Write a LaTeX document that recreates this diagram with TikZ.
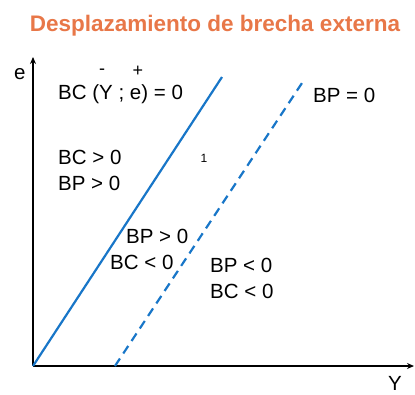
\documentclass[tikz,border=0pt]{standalone}
\usepackage{fontspec}
\setmainfont{Liberation Sans}
\usepackage{tikz}
\usetikzlibrary{arrows.meta, positioning}

\definecolor{titleorange}{RGB}{232,119,72}
\definecolor{curveblue}{RGB}{24,118,200}

\begin{document}
\begin{tikzpicture}[x=1pt, y=-1pt, >=Stealth,
      axis/.style={line width=1.8pt, ->, >={Stealth[length=7pt, width=6pt]}},
      curve/.style={line width=2.2pt, curveblue},
      lbl/.style={font=\fontsize{20.5}{24}\selectfont, anchor=base west, inner sep=0pt},
      sgn/.style={font=\fontsize{18}{20}\selectfont, inner sep=0pt}]

    \useasboundingbox (0,0) rectangle (415,394);

    % === title ===
    \node[font=\fontsize{22.5}{26}\selectfont\bfseries, text=titleorange, anchor=base, inner sep=0pt]
      (title) at (215,31) {Desplazamiento de brecha externa};

    % === axes ===
    \coordinate (O) at (33,366);
    \coordinate (ytop) at (33,57);
    \coordinate (xend) at (414,366);
    \draw[axis] (O) -- (ytop);
    \draw[axis] (O) -- (xend);
    \node[lbl] (elbl) at (14,79) {e};
    \node[lbl] (ylbl) at (388,390) {Y};

    % === BC and BP curves ===
    \coordinate (bctop) at (222,77);
    \coordinate (bpbot) at (115,366);
    \coordinate (bptop) at (304,80);
    \draw[curve] (O) -- (bctop);
    \draw[curve, dash pattern=on 9pt off 6pt] (bpbot) -- (bptop);

    % === labels ===
    \node[lbl] (bceq) at (58,99) {BC (Y ; e) = 0};
    \node[sgn] (minus) at (102,72) {-};
    \node[sgn] (plus) at (138,71) {+};
    \node[lbl] (bpeq) at (313,102) {BP = 0};
    \node[lbl] (bcpos) at (58,164) {BC > 0};
    \node[lbl] (bppos) at (58,190) {BP > 0};
    \node[font=\fontsize{12}{14}\selectfont, inner sep=0pt] (one) at (204,158) {1};
    \node[lbl] (bpposm) at (126,243) {BP > 0};
    \node[lbl] (bcnegm) at (110,269) {BC < 0};
    \node[lbl] (bpneg) at (210,272) {BP < 0};
    \node[lbl] (bcneg) at (210,298) {BC < 0};

\end{tikzpicture}
\end{document}
